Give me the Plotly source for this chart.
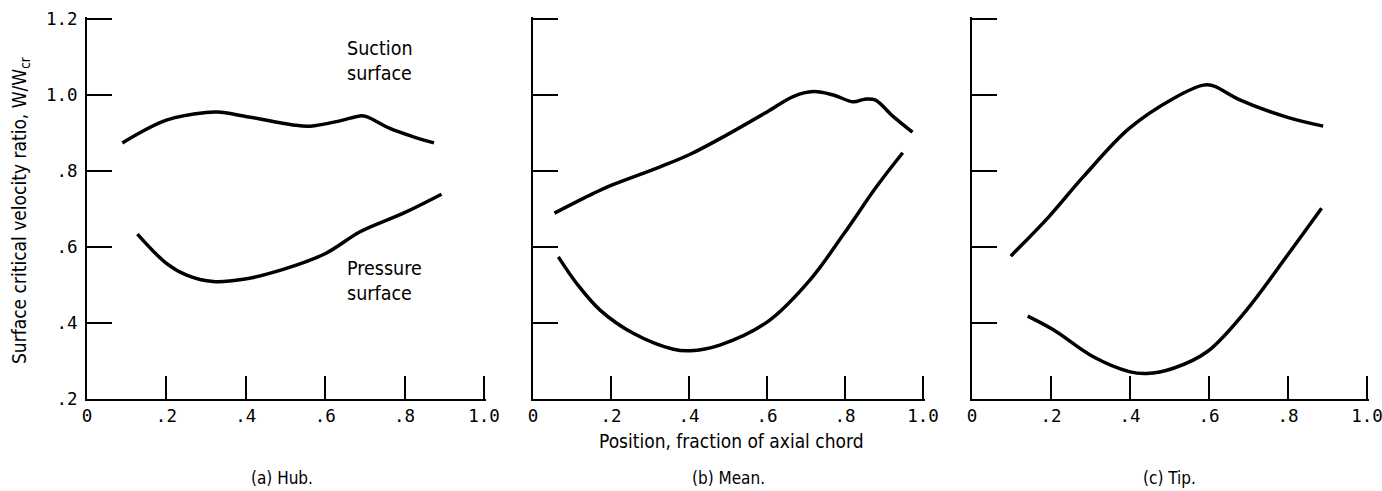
import plotly.graph_objects as go

# ---- data ----
hub_suction_x = [0.089, 0.20, 0.30, 0.33, 0.394, 0.52, 0.562, 0.637, 0.688, 0.704, 0.763, 0.822, 0.874]
hub_suction_y = [0.874, 0.934, 0.954, 0.955, 0.945, 0.921, 0.918, 0.932, 0.945, 0.943, 0.912, 0.890, 0.874]
hub_pressure_x = [0.127, 0.20, 0.251, 0.318, 0.394, 0.494, 0.601, 0.688, 0.797, 0.893]
hub_pressure_y = [0.634, 0.557, 0.526, 0.509, 0.515, 0.541, 0.583, 0.640, 0.689, 0.739]

mean_suction_x = [0.055, 0.155, 0.20, 0.326, 0.403, 0.497, 0.601, 0.667, 0.719, 0.770, 0.821, 0.851, 0.877, 0.924, 0.973]
mean_suction_y = [0.689, 0.741, 0.762, 0.811, 0.844, 0.895, 0.956, 0.996, 1.009, 1.000, 0.982, 0.989, 0.987, 0.943, 0.902]
mean_pressure_x = [0.065, 0.112, 0.172, 0.257, 0.360, 0.403, 0.479, 0.601, 0.710, 0.798, 0.881, 0.948]
mean_pressure_y = [0.574, 0.504, 0.434, 0.373, 0.331, 0.327, 0.342, 0.403, 0.513, 0.636, 0.759, 0.848]

tip_suction_x = [0.098, 0.195, 0.282, 0.398, 0.510, 0.586, 0.611, 0.678, 0.799, 0.889]
tip_suction_y = [0.576, 0.680, 0.785, 0.912, 0.991, 1.026, 1.024, 0.987, 0.941, 0.918]
tip_pressure_x = [0.141, 0.206, 0.307, 0.398, 0.442, 0.510, 0.596, 0.695, 0.799, 0.885]
tip_pressure_y = [0.418, 0.382, 0.311, 0.272, 0.267, 0.281, 0.325, 0.434, 0.579, 0.702]

x_tickvals = [0, 0.2, 0.4, 0.6, 0.8, 1.0]
x_ticktext = ["0", ".2", ".4", ".6", ".8", "1.0"]
y_tickvals = [0.2, 0.4, 0.6, 0.8, 1.0, 1.2]
y_ticktext = [".2", ".4", ".6", ".8", "1.0", "1.2"]

panels = [
    (hub_suction_x, hub_suction_y, hub_pressure_x, hub_pressure_y),
    (mean_suction_x, mean_suction_y, mean_pressure_x, mean_pressure_y),
    (tip_suction_x, tip_suction_y, tip_pressure_x, tip_pressure_y),
]

W, H = 1382, 491
XPAD = 0.006   # small range extension so the end ticks are drawn
YPAD = 0.006
x_px = [(87, 484), (533, 923), (972, 1367)]
x_domains = []
for a, b in x_px:
    span = (b - a) / 1.0
    x_domains.append((a / W, (b + span * XPAD) / W))
y_span = 399 - 19
y_domain = (1 - 399 / H, 1 - (19 - y_span * YPAD / 1.0) / H)

TICKFONT = dict(family="DejaVu Sans Mono, monospace", size=17.5, color="black")
TEXTFONT = "DejaVu Sans Condensed, Liberation Sans Narrow, Roboto Condensed, sans-serif"

fig = go.Figure()
for i, (sx, sy, px, py) in enumerate(panels):
    suffix = "" if i == 0 else str(i + 1)
    for xs, ys in ((sx, sy), (px, py)):
        fig.add_trace(go.Scatter(
            x=xs, y=ys, mode="lines",
            line=dict(color="black", width=3.5, shape="spline", smoothing=1.0),
            xaxis="x" + suffix, yaxis="y" + suffix, showlegend=False,
            hoverinfo="skip",
        ))
    fig.layout["xaxis" + suffix] = dict(
        domain=list(x_domains[i]), range=[0, 1.0 + XPAD], anchor="y" + suffix,
        showline=True, linecolor="black", linewidth=2,
        ticks="inside", ticklen=23, tickwidth=2, tickcolor="black",
        tickvals=x_tickvals, ticktext=x_ticktext, tickfont=TICKFONT,
        ticklabeloverflow="allow",
        showgrid=False, zeroline=False, fixedrange=True, automargin=False,
    )
    fig.layout["yaxis" + suffix] = dict(
        domain=list(y_domain), range=[0.2, 1.2 + YPAD], anchor="x" + suffix,
        showline=True, linecolor="black", linewidth=2,
        ticks="inside", ticklen=25, tickwidth=2, tickcolor="black",
        tickvals=y_tickvals, ticktext=y_ticktext, tickfont=TICKFONT,
        showticklabels=(i == 0), ticklabelstandoff=4, ticklabeloverflow="allow",
        showgrid=False, zeroline=False, fixedrange=True, automargin=False,
    )

def ann(text, x_px, y_px, size=16, xanchor="center", align="center", angle=0):
    fig.add_annotation(
        text=text, x=x_px / W, y=1 - y_px / H, xref="paper", yref="paper",
        xanchor=xanchor, yanchor="middle", align=align, textangle=angle,
        showarrow=False, font=dict(family=TEXTFONT, size=size, color="black"),
    )

ann("Suction<br>surface", 345, 61, size=19.5, xanchor="left", align="left")
ann("Pressure<br>surface", 345, 281, size=19.5, xanchor="left", align="left")
ann("Surface critical velocity ratio, W/W<sub>cr</sub>", 20, 211, size=19, angle=-90)
ann("Position, fraction of axial chord", 731, 441, size=19)
ann("(a) Hub.", 282, 478, size=17)
ann("(b) Mean.", 729, 478, size=17)
ann("(c) Tip.", 1169, 478, size=17)

fig.update_layout(
    width=W, height=H, margin=dict(l=0, r=0, t=0, b=0, autoexpand=False),
    paper_bgcolor="white", plot_bgcolor="white", showlegend=False,
)

fig.write_html(
    "out.html",
    config={"displayModeBar": False},
    post_script="document.body.style.margin='0';document.body.style.overflow='hidden';",
)
